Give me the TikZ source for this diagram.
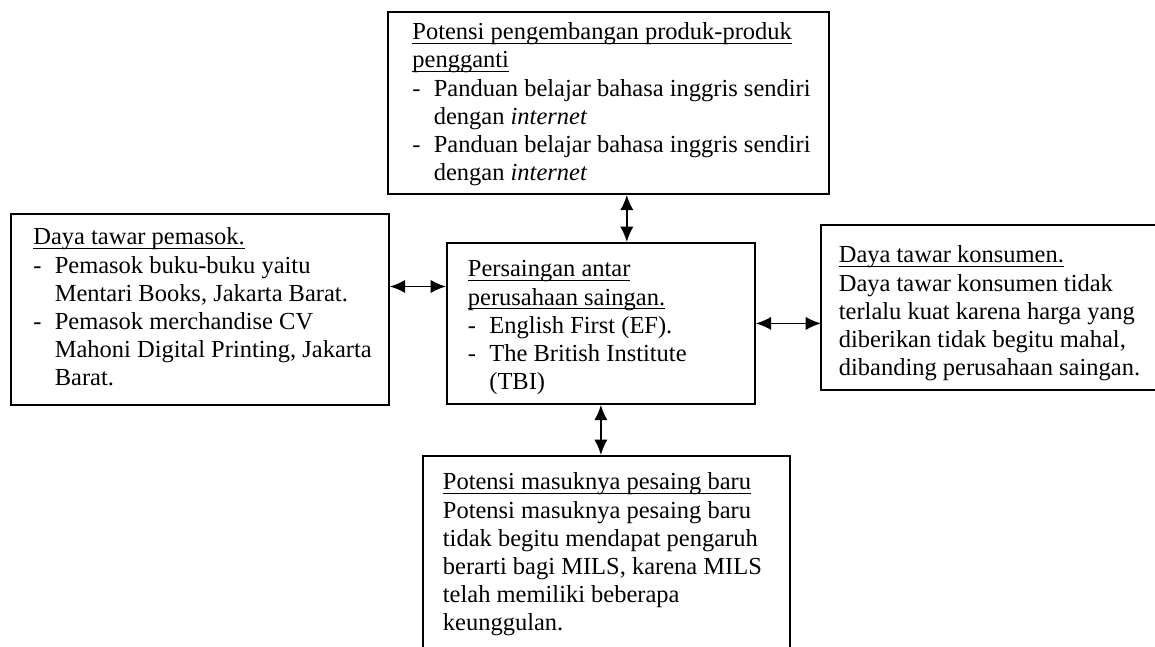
\documentclass[tikz,border=0pt]{standalone}
\usepackage{fontspec}
\setmainfont{Liberation Serif}
\usetikzlibrary{arrows.meta,positioning}

% box body: [left pad]{width}{height}{top gap}{text}
\newcommand{\boxtext}[5][10.5pt]{%
  \hspace*{#1}\parbox[t][#3][t]{\dimexpr#2-#1\relax}{\raggedright\vspace*{#4}#5}}
\newcommand{\itm}{\par\hangindent=10.5pt\hangafter=1\noindent\makebox[10.5pt][l]{-}}
\newcommand{\uln}[1]{\leavevmode\setbox0\hbox{#1}\rlap{\rule[-1.9pt]{\wd0}{0.45pt}}\box0}

\begin{document}
\begin{tikzpicture}[
  x=0.49pt,y=-0.49pt,
  box/.style={draw,line width=0.9pt,anchor=north west,inner sep=0pt,font=\fontsize{12}{13.8}\selectfont},
  arr/.style={{Latex[length=7.5pt,width=6.5pt]}-{Latex[length=7.5pt,width=6.5pt]},line width=0.85pt}
]
\useasboundingbox (0,0) rectangle (1155,646);
\clip (0,0) rectangle (1155,646);
\node[box] (subst) at (387,11) {\boxtext[12pt]{216.1pt}{89.2pt}{4pt}{\strut\uln{Potensi pengembangan produk-produk}\\\uln{pengganti}\itm Panduan belajar bahasa inggris sendiri\newline dengan \emph{internet}\itm Panduan belajar bahasa inggris sendiri\newline dengan \emph{internet}}};
\node[box] (supplier) at (10,213) {\boxtext[11pt]{185.2pt}{93.6pt}{5.5pt}{\strut\uln{Daya tawar pemasok.}\itm Pemasok buku-buku yaitu\newline Mentari Books, Jakarta Barat.\itm Pemasok merchandise CV\newline Mahoni Digital Printing, Jakarta\newline Barat.}};
\node[box] (rival) at (446,242) {\boxtext[10.3pt]{150.9pt}{78.9pt}{7pt}{\strut\uln{Persaingan antar}\\\uln{perusahaan saingan.}\itm English First (EF).\itm The British Institute\newline (TBI)}};
\node[box,draw=none] (buyer) at (821,225) {\boxtext[8.3pt]{175pt}{80pt}{8.5pt}{\strut\uln{Daya tawar konsumen.}\\Daya tawar konsumen tidak\\terlalu kuat karena harga yang\\diberikan tidak begitu mahal,\\dibanding perusahaan saingan.}};
\draw[line width=0.9pt] (buyer.north east) -- (buyer.north west) -- (buyer.south west) -- (buyer.south east);
\node[box] (entrant) at (422,455) {\boxtext[9.8pt]{180pt}{105.4pt}{7pt}{\strut\uln{Potensi masuknya pesaing baru}\\Potensi masuknya pesaing baru\\tidak begitu mendapat pengaruh\\berarti bagi MILS, karena MILS\\telah memiliki beberapa\\keunggulan.}};
\draw[arr] ([xshift=12.7pt]rival.north) -- ([xshift=12.7pt]rival.north |- subst.south);
\draw[arr] (rival.south) -- (rival.south |- entrant.north);
\draw[arr] ([yshift=18.1pt]rival.west) -- ([yshift=18.1pt]rival.west -| supplier.east);
\draw[arr] (rival.east) -- (rival.east -| buyer.west);
\end{tikzpicture}
\end{document}
